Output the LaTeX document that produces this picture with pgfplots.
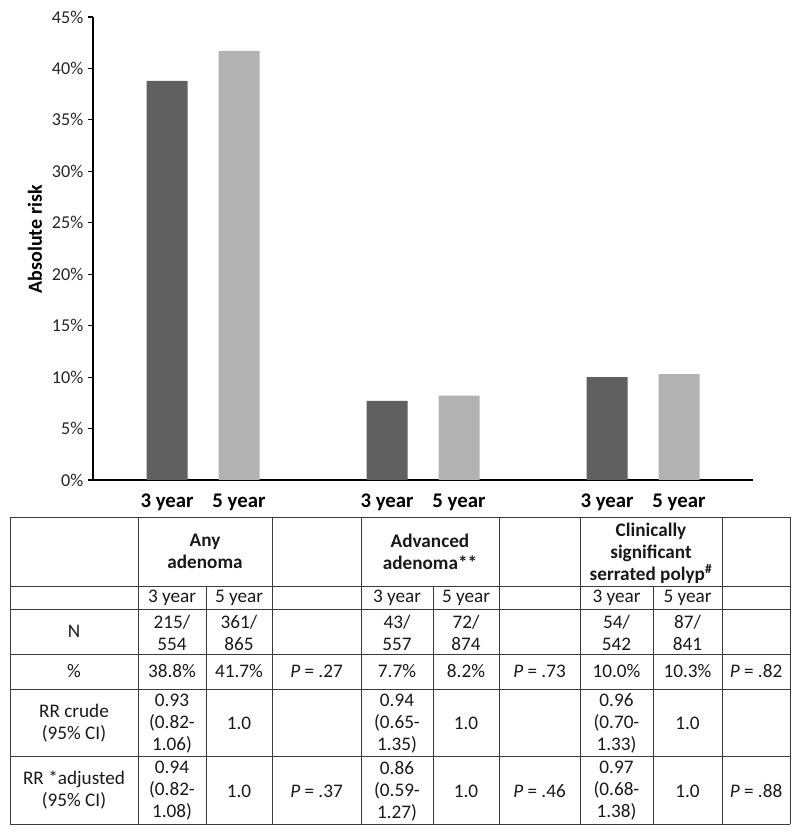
\documentclass[border=0pt]{standalone}
\usepackage{fontspec}
\setmainfont{Carlito}
\usepackage{pgfplots}
\pgfplotsset{compat=1.18}
\definecolor{bardark}{RGB}{96,96,96}
\definecolor{barlight}{RGB}{178,178,178}
\definecolor{gridline}{RGB}{60,60,60}

\begin{document}
\begin{tikzpicture}
\useasboundingbox (0,0) rectangle (600pt,627pt);
\begin{axis}[
  at={(69.75pt,267pt)}, anchor=south west,
  scale only axis, width=495pt, height=347.25pt,
  xmin=-0.5, xmax=2.5, ymin=0, ymax=45,
  axis x line=bottom, axis y line=left,
  axis line style={-, line width=0.9pt, black},
  ybar, bar width=30.75pt,
  ytick={0,5,...,45},
  yticklabel={\pgfmathprintnumber{\tick}\%},
  /pgf/number format/assume math mode=true,
  yticklabel style={font=\fontsize{13.6}{15}\selectfont, text=black!85},
  tick align=outside,
  ytick style={black, line width=0.8pt},
  major tick length=3.75pt,
  xtick={-0.1636,0.1636,0.8364,1.1636,1.8364,2.1636},
  xticklabels={3 year,5 year,\raisebox{3pt}{3 year},\raisebox{3pt}{5 year},\raisebox{3pt}{3 year},\raisebox{3pt}{5 year}},
  xtick style={draw=none},
  xticklabel style={font=\fontsize{15.6}{17}\selectfont\bfseries, yshift=-3pt},
  ylabel={Absolute risk},
  ylabel style={font=\fontsize{15}{17}\selectfont\bfseries, at={(axis description cs:-0.088,0.52)}, anchor=center},
]
\addplot[fill=bardark, draw=none, bar shift=-27pt] coordinates {(0,38.8) (1,7.7) (2,10.0)};
\addplot[fill=barlight, draw=none, bar shift=27pt] coordinates {(0,41.7) (1,8.2) (2,10.3)};
\end{axis}

\begin{scope}[x=0.75pt, y=-0.75pt, yshift=627pt,
  cell/.style={font=\fontsize{14.4}{16.5}\selectfont, align=center, inner sep=0pt, text=black!90}]
  % table rules
  \foreach \yy in {517,586,609,654,689,756,824}
    \draw[gridline, line width=0.7pt] (10,\yy) -- (790,\yy);
  \foreach \xx in {10,138,272,361,499,580,722,790}
    \draw[gridline, line width=0.7pt] (\xx,517) -- (\xx,824);
  \foreach \xx in {206,433,653}
    \draw[gridline, line width=0.7pt] (\xx,586) -- (\xx,824);
  % header
  \node[cell] at (205,551.5) {\bfseries Any\\\bfseries adenoma};
  \node[cell] at (430,551.5) {\bfseries Advanced\\\bfseries adenoma**};
  \node[cell] at (651,553) {\bfseries Clinically\\\bfseries significant\\\bfseries serrated polyp\textsuperscript{\#}};
  % sub header
  \node[cell] at (172,597.5) {3 year};
  \node[cell] at (239,597.5) {5 year};
  \node[cell] at (397,597.5) {3 year};
  \node[cell] at (466,597.5) {5 year};
  \node[cell] at (616.5,597.5) {3 year};
  \node[cell] at (687.5,597.5) {5 year};
  % N
  \node[cell] at (74,631.5) {N};
  \node[cell] at (172,633) {215/\\554};
  \node[cell] at (239,633) {361/\\865};
  \node[cell] at (397,633) {43/\\557};
  \node[cell] at (466,633) {72/\\874};
  \node[cell] at (616.5,633) {54/\\542};
  \node[cell] at (687.5,633) {87/\\841};
  % percent
  \node[cell] at (74,671.5) {\%};
  \node[cell] at (172,671.5) {38.8\%};
  \node[cell] at (239,671.5) {41.7\%};
  \node[cell] at (316.5,671.5) {\textit{P} = .27};
  \node[cell] at (397,671.5) {7.7\%};
  \node[cell] at (466,671.5) {8.2\%};
  \node[cell] at (539.5,671.5) {\textit{P} = .73};
  \node[cell] at (616.5,671.5) {10.0\%};
  \node[cell] at (687.5,671.5) {10.3\%};
  \node[cell] at (756,671.5) {\textit{P} = .82};
  % RR crude
  \node[cell] at (74,723.5) {RR crude\\(95\% CI)};
  \node[cell] at (172,723.5) {0.93\\(0.82-\\1.06)};
  \node[cell] at (239,723.5) {1.0};
  \node[cell] at (397,723.5) {0.94\\(0.65-\\1.35)};
  \node[cell] at (466,723.5) {1.0};
  \node[cell] at (616.5,723.5) {0.96\\(0.70-\\1.33)};
  \node[cell] at (687.5,723.5) {1.0};
  % RR adjusted
  \node[cell] at (74,790.5) {RR *adjusted\\(95\% CI)};
  \node[cell] at (172,791) {0.94\\(0.82-\\1.08)};
  \node[cell] at (239,791) {1.0};
  \node[cell] at (316.5,791) {\textit{P} = .37};
  \node[cell] at (397,791) {0.86\\(0.59-\\1.27)};
  \node[cell] at (466,791) {1.0};
  \node[cell] at (539.5,791) {\textit{P} = .46};
  \node[cell] at (616.5,791) {0.97\\(0.68-\\1.38)};
  \node[cell] at (687.5,791) {1.0};
  \node[cell] at (756,791) {\textit{P} = .88};
\end{scope}
\end{tikzpicture}
\end{document}
